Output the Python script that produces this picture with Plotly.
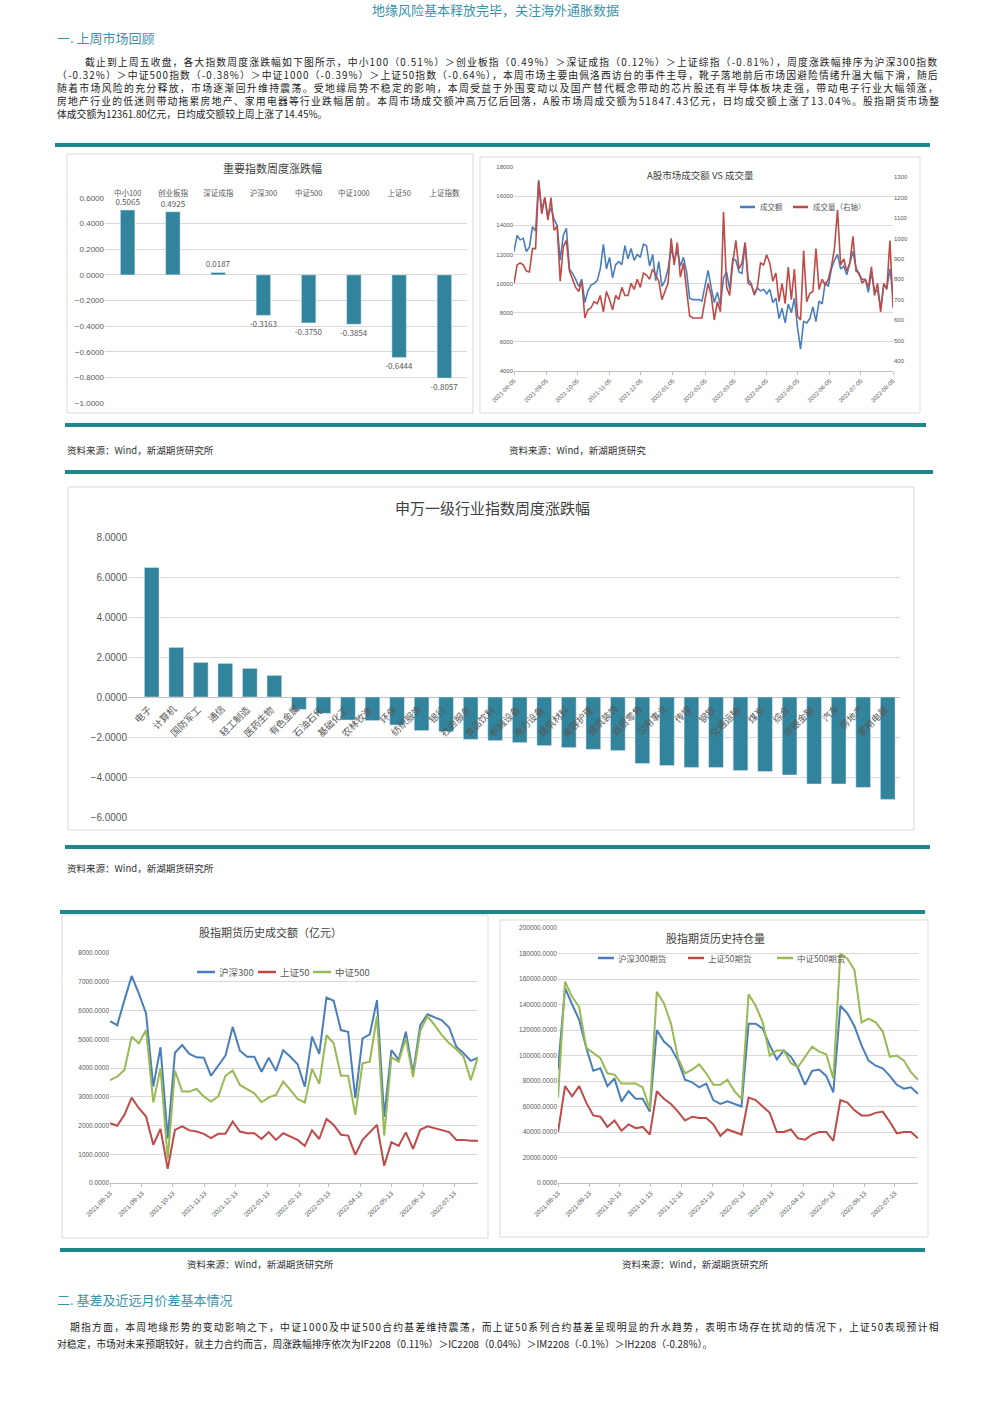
import plotly.graph_objects as go
import pandas as pd

# ---------------- data ----------------
idx_names = ["中小100", "创业板指", "深证成指", "沪深300", "中证500", "中证1000", "上证50", "上证指数"]
idx_chg = [0.5065, 0.4925, 0.0187, -0.3163, -0.3750, -0.3854, -0.6444, -0.8057]

ind_names = ["电子", "计算机", "国防军工", "通信", "轻工制造", "医药生物", "有色金属", "石油石化",
             "基础化工", "农林牧渔", "环保", "纺织服饰", "银行", "社会服务", "食品饮料", "机械设备",
             "电力设备", "建筑材料", "美容护理", "建筑装饰", "商贸零售", "公用事业", "传媒", "钢铁",
             "交通运输", "煤炭", "综合", "非银金融", "汽车", "房地产", "家用电器"]
ind_chg = [6.48, 2.48, 1.73, 1.68, 1.43, 1.08, -0.62, -0.82, -1.15, -1.18, -1.40, -1.68, -1.73,
           -2.12, -2.18, -2.28, -2.43, -2.53, -2.62, -2.68, -3.33, -3.43, -3.52, -3.52, -3.68,
           -3.73, -3.90, -4.35, -4.35, -4.52, -5.12]

turn_start, turn_end = "2021-08-05", "2022-08-05"
turnover = [12200, 13300, 13000, 13100, 12200, 12500, 13900, 13600, 17100, 15000, 15900, 14600,
            15200, 14400, 14000, 11600, 13300, 13800, 11000, 10700, 10300, 9800, 10300, 8700,
            9500, 9900, 10000, 10200, 11000, 12700, 11000, 11800, 10400, 11300, 11500, 11300,
            12600, 11700, 12400, 11600, 12000, 11800, 12700, 12600, 11200, 12000, 10200, 11500,
            9800, 10200, 11000, 12400, 11600, 12300, 11200, 11800, 10800, 9000, 8900, 8900,
            8900, 8800, 9900, 10900, 9700, 8700, 9400, 8500, 10400, 10800, 9600, 11700,
            11600, 10800, 10700, 12800, 10300, 10000, 9200, 9700, 9500, 9600, 9300, 9600,
            8700, 9000, 7600, 8300, 7300, 8600, 8000, 9000, 7000, 5500, 7400, 7300,
            7600, 8400, 7400, 8800, 8600, 10100, 9800, 11000, 11600, 12000, 11000, 11200,
            10600, 11500, 12200, 11100, 10600, 10300, 10300, 9400, 10800, 9500, 9500, 8300,
            9900, 9700, 11000, 9200]
volume = [780, 870, 880, 870, 840, 835, 950, 950, 1280, 1120, 1200, 1090,
          1200, 1040, 1060, 790, 960, 990, 840, 800, 760, 740, 790, 610,
          650, 660, 690, 680, 720, 640, 740, 700, 650, 720, 700, 760,
          720, 720, 780, 750, 800, 760, 830, 820, 800, 850, 820, 790,
          700, 740, 780, 1000, 870, 980, 810, 880, 760, 620, 610, 610,
          610, 610, 700, 780, 720, 600, 690, 640, 1130, 760, 720, 880,
          990, 850, 880, 980, 780, 770, 730, 760, 880, 870, 920, 880,
          790, 830, 690, 780, 680, 860, 700, 850, 620, 600, 940, 690,
          730, 740, 950, 750, 800, 770, 800, 860, 950, 1140, 870, 900,
          840, 880, 1010, 840, 830, 780, 800, 760, 860, 720, 780, 640,
          780, 750, 990, 660]
turn_ticks = ["2021-08-05", "2021-09-05", "2021-10-05", "2021-11-05", "2021-12-05", "2022-01-05",
              "2022-02-05", "2022-03-05", "2022-04-05", "2022-05-05", "2022-06-05", "2022-07-05",
              "2022-08-05"]
turn_series = ["成交额", "成交量（右轴）"]

fut_start = "2021-08-13"
amt_hs300 = [5630, 5490, 6360, 7200, 6590, 5900, 3350, 4720, 1550, 4530, 4800, 4490, 4370,
             4360, 3730, 4100, 4430, 5430, 4600, 4390, 4390, 3870, 4360, 3900, 4620, 4390,
             4130, 3350, 5090, 4490, 6450, 6340, 5320, 5260, 2950, 5030, 5170, 6360, 2300,
             4620, 4280, 5260, 3820, 5490, 5870, 5760, 5660, 5410, 4740, 4510, 4250, 4360]
amt_sz50 = [2080, 1990, 2370, 2970, 2600, 2310, 1330, 1880, 490, 1850, 1970, 1830, 1790,
            1710, 1560, 1710, 1710, 2140, 1790, 1730, 1730, 1530, 1770, 1500, 1730, 1620,
            1500, 1290, 1830, 1530, 2230, 2020, 1680, 1650, 980, 1500, 1760, 2020, 600,
            1420, 1290, 1760, 1190, 1850, 1970, 1910, 1830, 1770, 1500, 1500, 1470, 1470]
amt_zz500 = [3580, 3700, 3930, 5090, 4860, 5320, 2800, 3990, 830, 3910, 3180, 3180, 3270,
             3010, 2830, 3010, 3730, 3910, 3410, 3270, 3120, 2810, 2980, 3060, 3530, 3240,
             2920, 2800, 3970, 3450, 5140, 4860, 3730, 3730, 2370, 4160, 4220, 5800, 1650,
             4370, 4220, 5030, 3680, 5290, 5800, 5490, 5140, 4860, 4650, 4390, 3580, 4390]
amt_series = ["沪深300", "上证50", "中证500"]
oi_hs300 = [89000, 153000, 140000, 128000, 106000, 88000, 90000, 76000, 82000, 64000, 72000,
            66000, 66000, 56000, 120000, 111000, 106000, 96000, 81000, 79000, 75000, 78000,
            65000, 62000, 64000, 62000, 60000, 125000, 125000, 121000, 108000, 97000, 104000,
            99000, 90000, 77000, 88000, 89000, 84000, 71000, 139000, 133000, 123000, 108000,
            96000, 92000, 90000, 84000, 77000, 74000, 75000, 70000]
oi_sz50 = [40000, 76000, 68000, 76000, 63000, 53000, 52000, 44000, 49000, 41000, 46000, 43000,
           44000, 38000, 72000, 66000, 62000, 56000, 49000, 52000, 51000, 51000, 46000, 37000,
           42000, 40000, 38000, 67000, 65000, 60000, 55000, 40000, 40000, 42000, 35000, 34000,
           38000, 40000, 40000, 33000, 65000, 63000, 57000, 53000, 53000, 55000, 56000, 48000,
           39000, 40000, 40000, 35000]
oi_zz500 = [67000, 158000, 146000, 138000, 106000, 102000, 98000, 86000, 85000, 78000, 78000,
            78000, 75000, 58000, 150000, 141000, 125000, 98000, 86000, 89000, 93000, 86000,
            77000, 77000, 81000, 72000, 66000, 148000, 139000, 126000, 100000, 104000, 104000,
            94000, 91000, 99000, 107000, 103000, 101000, 82000, 180000, 176000, 167000, 126000,
            129000, 126000, 119000, 99000, 100000, 96000, 87000, 81000]
oi_series = ["沪深300期货", "上证50期货", "中证500期货"]
fut_ticks = ["2021-08-13", "2021-09-13", "2021-10-13", "2021-11-13", "2021-12-13", "2022-01-13",
             "2022-02-13", "2022-03-13", "2022-04-13", "2022-05-13", "2022-06-13", "2022-07-13"]

# ---------------- helpers ----------------
W, H = 992, 1403
def px(x): return x / W
def py(y): return 1 - y / H

TEAL_BAR = "#31849B"
RULE = "#1F868C"
HEAD = "#3A93AB"
GRID = "#D9D9D9"
AX = "#595959"
BLUE, RED, GREEN = "#4A7EBB", "#BE4B48", "#98B954"
CJK = "Noto Sans CJK SC"

fig = go.Figure()

# chart A: index weekly change
fig.add_trace(go.Bar(x=idx_names, y=idx_chg, marker_color=TEAL_BAR, width=0.32,
                     texttemplate="%{y:.4f}", textposition="outside", cliponaxis=False,
                     constraintext="none",
                     textfont=dict(size=8, color=AX), showlegend=False,
                     xaxis="x", yaxis="y"))

# chart B: turnover vs volume
tdates = pd.date_range(turn_start, turn_end, periods=len(turnover))
fig.add_trace(go.Scatter(x=tdates, y=turnover, mode="lines", name=turn_series[0], showlegend=False,
                         line=dict(color=BLUE, width=1.6), xaxis="x2", yaxis="y2"))
fig.add_trace(go.Scatter(x=tdates, y=volume, mode="lines", name=turn_series[1], showlegend=False,
                         line=dict(color=RED, width=1.6), xaxis="x2", yaxis="y3"))

# chart C: industries
fig.add_trace(go.Bar(x=ind_names, y=ind_chg, marker_color=TEAL_BAR, width=0.6,
                     showlegend=False, xaxis="x3", yaxis="y4"))

# chart D: futures turnover
fdates = pd.date_range(fut_start, periods=len(amt_hs300), freq="7D")
for nm, vals, col in zip(amt_series, [amt_hs300, amt_sz50, amt_zz500], [BLUE, RED, GREEN]):
    fig.add_trace(go.Scatter(x=fdates, y=vals, mode="lines", name=nm, showlegend=False,
                             line=dict(color=col, width=2), xaxis="x4", yaxis="y5"))

# chart E: open interest
for nm, vals, col in zip(oi_series, [oi_hs300, oi_sz50, oi_zz500], [BLUE, RED, GREEN]):
    fig.add_trace(go.Scatter(x=fdates, y=vals, mode="lines", name=nm, showlegend=False,
                             line=dict(color=col, width=2), xaxis="x5", yaxis="y6"))

tf = lambda s: dict(size=s, color=AX, family="Liberation Sans")

date_x = dict(type="date", showgrid=False, showline=True, linecolor="#BFBFBF", ticks="outside",
              ticklen=3, tickcolor="#BFBFBF", tickangle=-45, automargin=False)

fig.update_layout(
    width=W, height=H, margin=dict(l=0, r=0, t=0, b=0, autoexpand=False),
    paper_bgcolor="white", plot_bgcolor="white", font=dict(family=CJK), showlegend=False,
    xaxis=dict(domain=[px(105), px(467)], anchor="y", side="top", showgrid=False, showline=False,
               ticks="", tickfont=dict(size=7.5, color=AX, family=CJK), automargin=False),
    yaxis=dict(domain=[py(403), py(198)], anchor="x", range=[-1, 0.6], dtick=0.2, tickformat=".4f",
               gridcolor=GRID, zeroline=False, showline=False, tickfont=tf(8), automargin=False),
    xaxis2=dict(domain=[px(514), px(893)], anchor="y2", range=[turn_start, turn_end],
                tickvals=turn_ticks, ticktext=turn_ticks, tickfont=tf(6), **date_x),
    yaxis2=dict(domain=[py(371), py(167)], anchor="x2", range=[4000, 18000], dtick=2000,
                tickformat="d", gridcolor=GRID, zeroline=False, tickfont=tf(6), automargin=False),
    yaxis3=dict(overlaying="y2", anchor="x2", side="right", range=[350, 1350], dtick=100,
                tickformat="d", showgrid=False, zeroline=False, tickfont=tf(6), automargin=False),
    xaxis3=dict(domain=[px(128), px(900)], anchor="y4", showticklabels=False, showgrid=False,
                ticks="", showline=False, automargin=False),
    yaxis4=dict(domain=[py(817), py(537)], anchor="x3", range=[-6, 8], dtick=2, tickformat=".4f",
                gridcolor=GRID, zeroline=True, zerolinecolor="#BFBFBF", zerolinewidth=1,
                tickfont=tf(10), automargin=False),
    xaxis4=dict(domain=[px(110), px(478)], anchor="y5", range=[fut_start, "2022-08-05"],
                tickvals=fut_ticks, ticktext=fut_ticks, tickfont=tf(6.5), **date_x),
    yaxis5=dict(domain=[py(1183), py(953)], anchor="x4", range=[0, 8000], dtick=1000,
                tickformat=".4f", gridcolor=GRID, zeroline=False, tickfont=tf(6.5), automargin=False),
    xaxis5=dict(domain=[px(558), px(918)], anchor="y6", range=[fut_start, "2022-08-05"],
                tickvals=fut_ticks, ticktext=fut_ticks, tickfont=tf(6.5), **date_x),
    yaxis6=dict(domain=[py(1183), py(928)], anchor="x5", range=[0, 200000], dtick=20000,
                tickformat=".4f", gridcolor=GRID, zeroline=False, tickfont=tf(6.5), automargin=False),
)

# industry labels rotated next to zero line
for nm in ind_names:
    fig.add_annotation(x=nm, y=0, xref="x3", yref="y4", text=nm, showarrow=False,
                       textangle=-45, xanchor="right", yanchor="top", xshift=6, yshift=-2,
                       font=dict(size=9.5, color=AX, family=CJK))

shapes = []
def rect(x0, y0, x1, y1):
    shapes.append(dict(type="rect", xref="paper", yref="paper", x0=px(x0), x1=px(x1),
                       y0=py(y1), y1=py(y0), line=dict(color=GRID, width=1), layer="below"))
def rule(x0, x1, y, w=4):
    shapes.append(dict(type="line", xref="paper", yref="paper", x0=px(x0), x1=px(x1),
                       y0=py(y), y1=py(y), line=dict(color=RULE, width=w)))

rect(67, 154, 473, 413)
rect(480, 157, 920, 413)
rect(68, 487, 914, 830)
rect(62, 915, 488, 1238)
rect(500, 920, 928, 1237)
rule(55, 930, 145)
rule(65, 926, 425)
rule(65, 933, 472)
rule(65, 930, 847)
rule(60, 925, 912)
rule(60, 925, 1250)

def txt(x, y, s, size=10, color="#222222", anchor="left"):
    fig.add_annotation(x=px(x), y=py(y), xref="paper", yref="paper", text=s,
                       showarrow=False, xanchor=anchor, yanchor="middle",
                       font=dict(size=size, color=color, family=CJK))

# approximate glyph advance (em) for Noto Sans CJK SC
def adv(c):
    if ord(c) > 0x2E80 or c in "（），。＞、：":
        return 1.0
    if c.isdigit():
        return 0.55
    return {".": 0.27, "%": 0.85, "-": 0.33, " ": 0.25}.get(c, 0.6)

def justified(x0, x1, y, s, size):
    # one line of text, letter-spaced so it spans [x0, x1] like the justified original
    natural = sum(adv(c) for c in s) * size
    ls = max(0.0, (x1 - x0 - natural) / (len(s) - 1))
    txt(x0, y, '<span style="letter-spacing:%.2fpx">%s</span>' % (ls, s), size)

# manual legends (short line sample + label)
def legend_items(items, y, size):
    for (x0, x1, tx), nm, col in items:
        shapes.append(dict(type="line", xref="paper", yref="paper", x0=px(x0), x1=px(x1),
                           y0=py(y), y1=py(y), line=dict(color=col, width=2.5)))
        txt(tx, y, nm, size, AX)

legend_items(list(zip([(740, 755, 758), (793, 808, 811)], turn_series, [BLUE, RED])), 207, 7.5)
legend_items(list(zip([(197, 215, 217), (258, 276, 278), (313, 331, 333)], amt_series,
                      [BLUE, RED, GREEN])), 972, 9.5)
legend_items(list(zip([(598, 614, 616), (688, 704, 706), (777, 793, 795)], oi_series,
                      [BLUE, RED, GREEN])), 958, 8.5)
fig.update_layout(shapes=shapes)

txt(495, 10, "地缘风险基本释放完毕，关注海外通胀数据", 13, HEAD, "center")
txt(55, 37, "一. 上周市场回顾", 13, HEAD)
para1 = [
    (83, "截止到上周五收盘，各大指数周度涨跌幅如下图所示，中小100（0.51%）＞创业板指（0.49%）＞深证成指（0.12%）＞上证综指（-0.81%），周度涨跌幅排序为沪深300指数"),
    (55, "（-0.32%）＞中证500指数（-0.38%）＞中证1000（-0.39%）＞上证50指数（-0.64%），本周市场主要由佩洛西访台的事件主导，靴子落地前后市场因避险情绪升温大幅下滑，随后"),
    (55, "随着市场风险的充分释放，市场逐渐回升维持震荡。受地缘局势不稳定的影响，本周受益于外围变动以及国产替代概念带动的芯片股还有半导体板块走强，带动电子行业大幅领涨，"),
    (55, "房地产行业的低迷则带动拖累房地产、家用电器等行业跌幅居前。本周市场成交额冲高万亿后回落，A股市场周成交额为51847.43亿元，日均成交额上涨了13.04%。股指期货市场整"),
]
for i, (x, s) in enumerate(para1):
    justified(x, 936, 62 + i * 13, s, 9.8)
txt(55, 114, "体成交额为12361.80亿元，日均成交额较上周上涨了14.45%。", 9.8)

txt(272, 168, "重要指数周度涨跌幅", 11, "#404040", "center")
txt(700, 175, "A股市场成交额 VS 成交量", 9.5, "#404040", "center")
txt(492, 508, "申万一级行业指数周度涨跌幅", 15, "#404040", "center")
txt(270, 932, "股指期货历史成交额（亿元）", 11, "#404040", "center")
txt(715, 938, "股指期货历史持仓量", 11, "#404040", "center")

txt(65, 450, "资料来源：Wind，新湖期货研究所", 9.5, "#333333")
txt(507, 450, "资料来源：Wind，新湖期货研究", 9.5, "#333333")
txt(65, 868, "资料来源：Wind，新湖期货研究所", 9.5, "#333333")
txt(185, 1264, "资料来源：Wind，新湖期货研究所", 9.5, "#333333")
txt(620, 1264, "资料来源：Wind，新湖期货研究所", 9.5, "#333333")

txt(55, 1299, "二. 基差及近远月价差基本情况", 13, HEAD)
justified(68, 936, 1327, "期指方面，本周地缘形势的变动影响之下，中证1000及中证500合约基差维持震荡，而上证50系列合约基差呈现明显的升水趋势，表明市场存在扰动的情况下，上证50表现预计相", 9.8)
txt(55, 1344, "对稳定，市场对未来预期较好，就主力合约而言，周涨跌幅排序依次为IF2208（0.11%）＞IC2208（0.04%）＞IM2208（-0.1%）＞IH2208（-0.28%）。", 9.8)

fig.write_html("out.html", config={"displayModeBar": False},
               post_script="document.body.style.margin='0';")
